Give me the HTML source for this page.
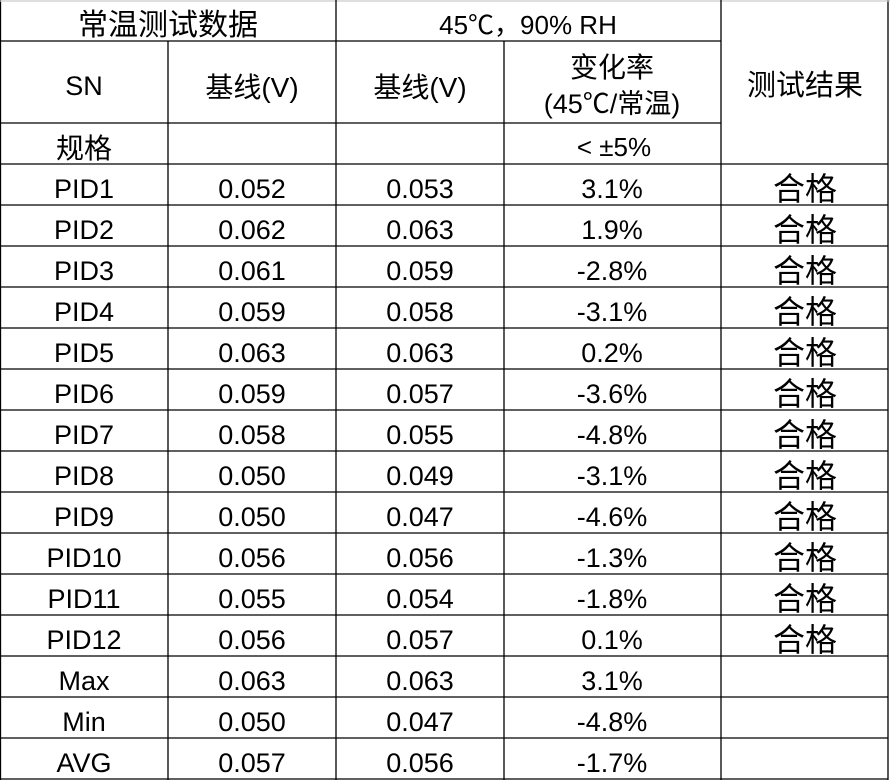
<!DOCTYPE html>
<html><head><meta charset="utf-8"><style>
html,body{margin:0;padding:0;background:#fff;}
svg{display:block}
text{font-family:"Liberation Sans","Noto Sans CJK SC",sans-serif;fill:#000;text-anchor:middle}
</style></head><body>
<svg width="890" height="780" viewBox="0 0 890 780" xmlns="http://www.w3.org/2000/svg">
<rect x="0" y="0" width="890" height="780" fill="#fff"/>
<g stroke="#000" stroke-width="1.3">
<line x1="0.5" y1="0" x2="0.5" y2="780"/>
<line x1="888" y1="0" x2="888" y2="780"/>
<line x1="0" y1="1" x2="890" y2="1" stroke="#ccc"/>
<line x1="336" y1="0" x2="336" y2="780"/>
<line x1="721" y1="0" x2="721" y2="780"/>
<line x1="168" y1="41" x2="168" y2="780"/>
<line x1="504" y1="41" x2="504" y2="780"/>
<line x1="0" y1="41" x2="721" y2="41"/>
<line x1="0" y1="123" x2="721" y2="123"/>
<line x1="0" y1="164" x2="888" y2="164"/>
<line x1="0" y1="205" x2="888" y2="205"/>
<line x1="0" y1="246" x2="888" y2="246"/>
<line x1="0" y1="287" x2="888" y2="287"/>
<line x1="0" y1="328" x2="888" y2="328"/>
<line x1="0" y1="369" x2="888" y2="369"/>
<line x1="0" y1="410" x2="888" y2="410"/>
<line x1="0" y1="451" x2="888" y2="451"/>
<line x1="0" y1="492" x2="888" y2="492"/>
<line x1="0" y1="533" x2="888" y2="533"/>
<line x1="0" y1="574" x2="888" y2="574"/>
<line x1="0" y1="615" x2="888" y2="615"/>
<line x1="0" y1="656" x2="888" y2="656"/>
<line x1="0" y1="697" x2="888" y2="697"/>
<line x1="0" y1="738" x2="888" y2="738"/>
<line x1="0" y1="779" x2="888" y2="779"/>
</g>
<text x="168" y="35" font-size="30">常温测试数据</text>
<text x="528" y="34" font-size="26">45℃，90% RH</text>
<text x="84" y="95" font-size="27">SN</text>
<text x="252" y="97" font-size="28">基线(V)</text>
<text x="420" y="97" font-size="28">基线(V)</text>
<text x="612" y="77" font-size="28">变化率</text>
<text x="612" y="113" font-size="27">(45℃/常温)</text>
<text x="805" y="95" font-size="29">测试结果</text>
<text x="84" y="158" font-size="28">规格</text>
<text x="614" y="156" font-size="26">&lt;  ±5%</text>
<g font-size="27">
<text x="84" y="198">PID1</text><text x="252" y="198">0.052</text><text x="420" y="198">0.053</text><text x="612" y="198">3.1%</text>
<text x="84" y="239">PID2</text><text x="252" y="239">0.062</text><text x="420" y="239">0.063</text><text x="612" y="239">1.9%</text>
<text x="84" y="280">PID3</text><text x="252" y="280">0.061</text><text x="420" y="280">0.059</text><text x="612" y="280">-2.8%</text>
<text x="84" y="321">PID4</text><text x="252" y="321">0.059</text><text x="420" y="321">0.058</text><text x="612" y="321">-3.1%</text>
<text x="84" y="362">PID5</text><text x="252" y="362">0.063</text><text x="420" y="362">0.063</text><text x="612" y="362">0.2%</text>
<text x="84" y="403">PID6</text><text x="252" y="403">0.059</text><text x="420" y="403">0.057</text><text x="612" y="403">-3.6%</text>
<text x="84" y="444">PID7</text><text x="252" y="444">0.058</text><text x="420" y="444">0.055</text><text x="612" y="444">-4.8%</text>
<text x="84" y="485">PID8</text><text x="252" y="485">0.050</text><text x="420" y="485">0.049</text><text x="612" y="485">-3.1%</text>
<text x="84" y="526">PID9</text><text x="252" y="526">0.050</text><text x="420" y="526">0.047</text><text x="612" y="526">-4.6%</text>
<text x="84" y="567">PID10</text><text x="252" y="567">0.056</text><text x="420" y="567">0.056</text><text x="612" y="567">-1.3%</text>
<text x="84" y="608">PID11</text><text x="252" y="608">0.055</text><text x="420" y="608">0.054</text><text x="612" y="608">-1.8%</text>
<text x="84" y="649">PID12</text><text x="252" y="649">0.056</text><text x="420" y="649">0.057</text><text x="612" y="649">0.1%</text>
<text x="84" y="690">Max</text><text x="252" y="690">0.063</text><text x="420" y="690">0.063</text><text x="612" y="690">3.1%</text>
<text x="84" y="731">Min</text><text x="252" y="731">0.050</text><text x="420" y="731">0.047</text><text x="612" y="731">-4.8%</text>
<text x="84" y="772">AVG</text><text x="252" y="772">0.057</text><text x="420" y="772">0.056</text><text x="612" y="772">-1.7%</text>
</g>
<g font-size="32">
<text x="805" y="200">合格</text><text x="805" y="241">合格</text><text x="805" y="282">合格</text>
<text x="805" y="323">合格</text><text x="805" y="364">合格</text><text x="805" y="405">合格</text>
<text x="805" y="446">合格</text><text x="805" y="487">合格</text><text x="805" y="528">合格</text>
<text x="805" y="569">合格</text><text x="805" y="610">合格</text><text x="805" y="651">合格</text>
</g>
</svg>
</body></html>
